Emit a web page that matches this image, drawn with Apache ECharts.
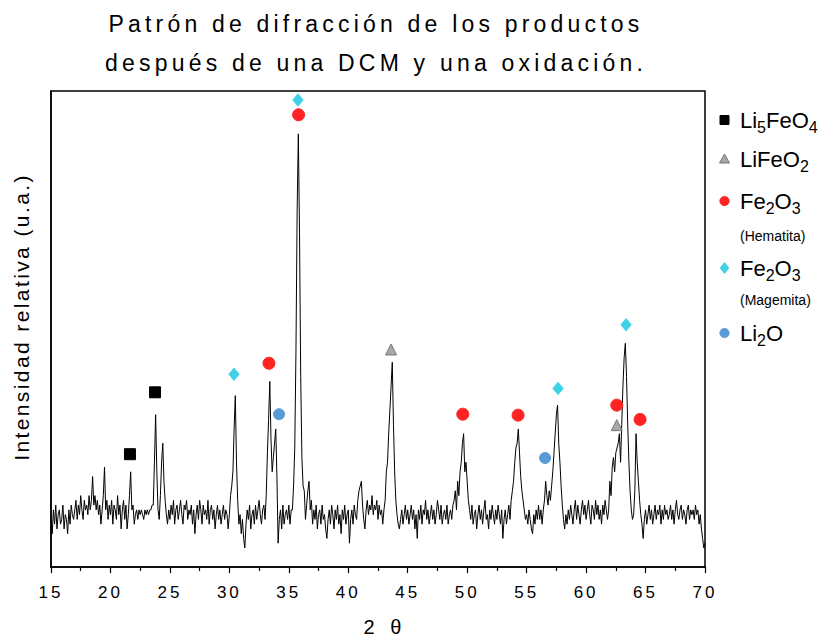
<!DOCTYPE html>
<html>
<head>
<meta charset="utf-8">
<script src="https://cdn.jsdelivr.net/npm/echarts@6/dist/echarts.min.js"></script>
<style>
  html, body { margin: 0; padding: 0; background: #fff; }
  #chart { width: 823px; height: 642px; }
  /* spaced lettering for the title, the axis names and the tick labels */
  #chart text[style*="23px"] { letter-spacing: 4.2px; }
  #chart text[style*="21px"] { letter-spacing: 2.4px; }
  #chart text[style*="20px"] { letter-spacing: 5px; }
  #chart text[style*="17px"] { letter-spacing: 3px; }
</style>
</head>
<body>
<div id="chart"></div>
<script>
// Diffractogram: 2θ from 15° to 70° in 0.1° steps, relative intensity (0–100)
const angleStart = 15;
const angleStep = 0.1;
const intensity = [
  10, 7, 12, 9, 13, 8, 11, 12, 9, 10,      // 15
  13, 8, 11, 10, 7, 12, 9, 13, 11, 10,     // 16
  12, 14, 10, 13, 11, 15, 12, 10, 14, 12,  // 17
  13, 11, 15, 12, 14, 19, 13, 15, 12, 14,  // 18
  11, 13, 9, 12, 15, 21, 12, 14, 10, 13,   // 19
  11, 14, 9, 13, 12, 10, 15, 11, 13, 8,    // 20
  12, 14, 10, 13, 8, 11, 15, 20, 12, 13,   // 21
  9, 11, 12, 10, 12, 11, 12, 11, 10, 12,   // 22
  11, 12, 11, 12, 12, 13, 13, 22, 32, 20,  // 23
  12, 10, 15, 22, 26, 18, 14, 11, 9, 12,   // 24
  10, 13, 11, 14, 9, 12, 13, 10, 12, 14,   // 25
  11, 9, 13, 12, 14, 10, 12, 11, 13, 9,    // 26
  12, 7, 11, 13, 10, 14, 12, 9, 13, 11,    // 27
  12, 10, 14, 9, 12, 13, 10, 12, 8, 11,    // 28
  13, 10, 12, 9, 11, 13, 10, 12, 11, 8,    // 29
  11, 15, 17, 20, 29, 36, 22, 14, 9, 11,   // 30
  7, 10, 6, 4, 9, 12, 10, 13, 8, 11,       // 31
  12, 9, 13, 10, 12, 14, 11, 9, 12, 13,    // 32
  10, 15, 24, 31, 39, 27, 20, 23, 26, 29,  // 33
  19, 5, 10, 12, 8, 13, 9, 11, 12, 10,     // 34
  13, 9, 12, 12, 17, 25, 45, 75, 91, 70,   // 35
  40, 23, 17, 16, 10, 13, 16, 18, 12, 14,  // 36
  9, 12, 10, 13, 8, 11, 12, 9, 13, 10,     // 37
  11, 8, 6, 10, 12, 9, 13, 11, 8, 12,      // 38
  10, 13, 9, 11, 7, 12, 10, 13, 9, 11,     // 39
  12, 5, 10, 12, 9, 13, 11, 10, 14, 16,    // 40
  17, 18, 13, 10, 8, 12, 14, 11, 13, 12,   // 41
  15, 11, 13, 12, 14, 10, 13, 11, 12, 9,   // 42
  12, 14, 20, 22, 28, 33, 38, 43, 30, 20,  // 43
  14, 11, 9, 8, 10, 12, 9, 11, 13, 10,     // 44
  12, 9, 11, 13, 10, 12, 8, 11, 6, 12,     // 45
  10, 13, 9, 12, 11, 14, 10, 12, 9, 11,    // 46
  13, 10, 12, 9, 11, 14, 12, 10, 13, 9,    // 47
  11, 12, 10, 13, 9, 11, 12, 10, 13, 14,   // 48
  16, 12, 18, 15, 20, 22, 26, 28, 20, 22,  // 49
  18, 14, 12, 10, 13, 9, 11, 12, 8, 11,    // 50
  13, 10, 12, 9, 12, 14, 10, 11, 8, 12,    // 51
  10, 13, 11, 9, 12, 10, 13, 11, 9, 12,    // 52
  6, 10, 12, 9, 11, 13, 10, 14, 16, 18,    // 53
  22, 25, 26, 29, 24, 19, 16, 14, 12, 10,  // 54
  11, 9, 12, 10, 8, 7, 11, 9, 12, 10,      // 55
  13, 10, 12, 9, 12, 14, 18, 15, 13, 16,   // 56
  14, 17, 20, 24, 28, 32, 34, 26, 22, 17,  // 57
  13, 10, 8, 11, 9, 12, 10, 13, 11, 9,     // 58
  12, 14, 10, 13, 11, 9, 12, 14, 11, 13,   // 59
  10, 12, 14, 11, 9, 13, 12, 10, 14, 11,   // 60
  13, 10, 12, 9, 13, 11, 14, 12, 10, 12,   // 61
  18, 15, 21, 23, 20, 24, 25, 26, 28, 22,  // 62
  30, 38, 44, 47, 40, 30, 22, 16, 12, 10,  // 63
  11, 16, 28, 22, 18, 14, 11, 9, 6, 10,    // 64
  12, 9, 11, 13, 10, 12, 9, 11, 13, 10,    // 65
  12, 11, 13, 9, 12, 10, 13, 11, 12, 10,   // 66
  11, 13, 10, 12, 9, 12, 14, 11, 10, 12,   // 67
  13, 10, 12, 11, 9, 12, 13, 10, 12, 11,   // 68
  12, 10, 13, 11, 12, 9, 11, 8, 6, 4,      // 69
  5                                        // 70
];

// Phase identification marks: [2θ, height of the mark]
const li5feo4 = [[21.64, 23.7], [23.75, 36.7]];
const lifeo2 = [[43.60, 45.7], [62.58, 29.8]];
const hematita = [[33.33, 42.8], [35.82, 95.0], [49.63, 32.1], [54.28, 31.9], [62.58, 34.0], [64.54, 31.0]];
const magemita = [[30.39, 40.5], [35.77, 98.1], [57.64, 37.5], [63.36, 50.9]];
const li2o = [[34.18, 32.1], [56.55, 22.9]];

const phaseNames = ['Li5FeO4', 'LiFeO2', 'Fe2O3 (Hematita)', 'Fe2O3 (Magemita)', 'Li2O'];
const phaseLabels = [
  '{m|Li}{s|5}{m|FeO}{s|4}',
  '{m|LiFeO}{s|2}',
  '{m|Fe}{s|2}{m|O}{s|3}',
  '{m|Fe}{s|2}{m|O}{s|3}',
  '{m|Li}{s|2}{m|O}'
];
const phaseNotes = ['', '', '(Hematita)', '(Magemita)', ''];
const phaseData = [li5feo4, lifeo2, hematita, magemita, li2o];

const titleText = 'Patrón de difracción de los productos\ndespués de una DCM y una oxidación.';
const xName = '2 θ';
const yName = 'Intensidad relativa (u.a.)';

// marker appearance per phase
const phaseStyles = [
  { symbol: 'rect', size: 11, color: '#000000', border: '#000000' },
  { symbol: 'triangle', size: 11, color: '#a8a8a8', border: '#767676' },
  { symbol: 'circle', size: 12, color: '#ff2424', border: '#ff2424' },
  { symbol: 'diamond', size: [10, 12], color: '#3fd2e6', border: '#3fd2e6' },
  { symbol: 'circle', size: 11, color: '#5b9bd5', border: '#5b9bd5' }
];

const tracePoints = intensity.map((v, i) => [+(angleStart + i * angleStep).toFixed(1), v]);

const FONT = 'Liberation Sans';

// Key at the right of the plot
const keyIconX = 724.5;
const keyTextX = 740;
const keyRows = [120, 159, 201, 268, 333];
const keyNoteRows = [0, 0, 236, 300, 0];

function keyIcon(style, cx, cy) {
  const common = { x: cx, y: cy, silent: true,
    style: { fill: style.color, stroke: style.border, lineWidth: 1 } };
  switch (style.symbol) {
    case 'rect':
      return Object.assign({ type: 'rect', shape: { x: -4.5, y: -4.5, width: 9, height: 9 } }, common);
    case 'triangle':
      return Object.assign({ type: 'polygon', shape: { points: [[0, -5], [5, 4], [-5, 4]] } }, common);
    case 'diamond':
      return Object.assign({ type: 'polygon', shape: { points: [[0, -5.5], [4.2, 0], [0, 5.5], [-4.2, 0]] } }, common);
    default:
      return Object.assign({ type: 'circle', shape: { cx: 0, cy: 0, r: 4.6 } }, common);
  }
}

const keyElements = [];
phaseLabels.forEach((label, i) => {
  keyElements.push(keyIcon(phaseStyles[i], keyIconX, keyRows[i]));
  keyElements.push({
    type: 'text', x: keyTextX, y: keyRows[i], silent: true,
    style: {
      text: label, align: 'left', verticalAlign: 'middle',
      rich: {
        m: { fontSize: 22, fontFamily: FONT, fill: '#000', lineHeight: 24 },
        s: { fontSize: 16, fontFamily: FONT, fill: '#000', lineHeight: 24, padding: [14, 0, 0, 0] }
      }
    }
  });
  if (phaseNotes[i]) {
    keyElements.push({
      type: 'text', x: keyTextX, y: keyNoteRows[i], silent: true,
      style: { text: phaseNotes[i], fontSize: 14, fontFamily: FONT, fill: '#000',
               align: 'left', verticalAlign: 'middle' }
    });
  }
});

const chart = echarts.init(document.getElementById('chart'), null, { renderer: 'svg' });

chart.setOption({
  animation: false,
  backgroundColor: '#ffffff',
  title: {
    text: titleText,
    left: 376, top: 4, padding: 0, textAlign: 'center',
    textStyle: { fontSize: 23, fontWeight: 'normal', color: '#000', fontFamily: FONT, lineHeight: 39 }
  },
  grid: {
    left: 51, right: 118, top: 91, bottom: 74,
    show: true, borderColor: '#000', borderWidth: 1.5, backgroundColor: 'transparent'
  },
  xAxis: {
    type: 'value', min: 15, max: 70, interval: 5,
    axisLine: { lineStyle: { color: '#000', width: 1.5 } },
    axisTick: { length: 6, lineStyle: { color: '#000', width: 1.2 } },
    minorTick: { show: true, splitNumber: 2, length: 4, lineStyle: { color: '#000', width: 1.2 } },
    splitLine: { show: false },
    axisLabel: { fontSize: 17, color: '#000', margin: 17, fontFamily: 'Liberation Sans Narrow, Liberation Sans' },
    name: xName, nameLocation: 'middle', nameGap: 50,
    nameTextStyle: { fontSize: 20, color: '#000', fontFamily: FONT, padding: [0, 0, 0, 14] }
  },
  yAxis: {
    type: 'value', min: 0, max: 100,
    axisLine: { show: true, lineStyle: { color: '#000', width: 1.5 } },
    axisTick: { show: false },
    axisLabel: { show: false },
    splitLine: { show: false },
    name: yName, nameLocation: 'middle', nameGap: 19,
    nameTextStyle: { fontSize: 21, color: '#000', fontFamily: FONT, padding: [0, 0, 0, 24] }
  },
  series: [
    {
      type: 'line', name: 'DRX', data: tracePoints,
      showSymbol: false, symbol: 'none', silent: true,
      lineStyle: { color: '#000', width: 1 }, z: 2
    }
  ].concat(phaseData.map((d, i) => ({
    type: 'scatter', name: phaseNames[i], data: d,
    symbol: phaseStyles[i].symbol, symbolSize: phaseStyles[i].size,
    itemStyle: { color: phaseStyles[i].color, borderColor: phaseStyles[i].border, borderWidth: 1, opacity: 1 },
    silent: true, z: 3
  }))),
  graphic: keyElements
});
</script>
</body>
</html>
